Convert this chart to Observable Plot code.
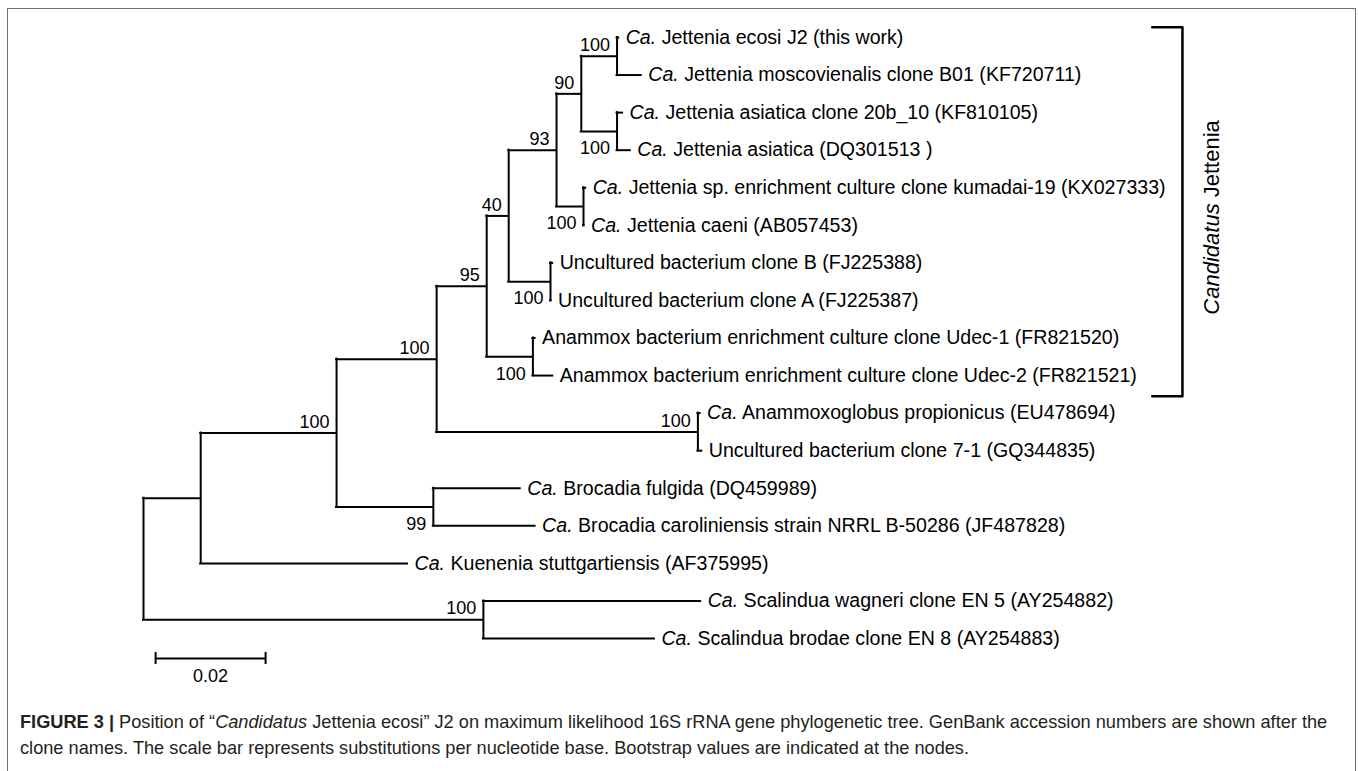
<!DOCTYPE html>
<html><head><meta charset="utf-8">
<script src="https://cdn.jsdelivr.net/npm/d3@7"></script>
<script src="https://cdn.jsdelivr.net/npm/@observablehq/plot@0.6"></script>
<style>
html,body{margin:0;padding:0;background:#fff;}
#wrap{position:relative;width:1358px;height:771px;overflow:hidden;font-family:"Liberation Sans",Arial,sans-serif;}
#frame{position:absolute;left:7px;top:8px;width:1349px;height:820px;border:1.5px solid #6e6e6e;box-sizing:border-box;pointer-events:none;}
#chart{position:absolute;left:0;top:0;}
#caption{position:absolute;left:20px;top:709px;font-size:18.2px;line-height:26px;color:#231f20;white-space:nowrap;}
#caption b{font-weight:bold;}
</style></head><body>
<div id="wrap">
  <div id="chart"></div>
  <div id="caption"><div><b>FIGURE 3 |</b> Position of “<i>Candidatus</i> Jettenia ecosi” J2 on maximum likelihood 16S rRNA gene phylogenetic tree. GenBank accession numbers are shown after the</div><div>clone names. The scale bar represents substitutions per nucleotide base. Bootstrap values are indicated at the nodes.</div></div>
  <div id="frame"></div>
</div>
<script>
// ---- Leaves (display order, top to bottom) ----
const leafNames = [
  "Ca. Jettenia ecosi J2 (this work)",
  "Ca. Jettenia moscovienalis clone B01 (KF720711)",
  "Ca. Jettenia asiatica clone 20b_10 (KF810105)",
  "Ca. Jettenia asiatica (DQ301513 )",
  "Ca. Jettenia sp. enrichment culture clone kumadai-19 (KX027333)",
  "Ca. Jettenia caeni (AB057453)",
  "Uncultured bacterium clone B (FJ225388)",
  "Uncultured bacterium clone A (FJ225387)",
  "Anammox bacterium enrichment culture clone Udec-1 (FR821520)",
  "Anammox bacterium enrichment culture clone Udec-2 (FR821521)",
  "Ca. Anammoxoglobus propionicus (EU478694)",
  "Uncultured bacterium clone 7-1 (GQ344835)",
  "Ca. Brocadia fulgida (DQ459989)",
  "Ca. Brocadia caroliniensis strain NRRL B-50286 (JF487828)",
  "Ca. Kuenenia stuttgartiensis (AF375995)",
  "Ca. Scalindua wagneri clone EN 5 (AY254882)",
  "Ca. Scalindua brodae clone EN 8 (AY254883)"
];
const leafParents = ["H","H","I","I","J","J","K","K","L","L","M","M","N","N","A","O","O"];
const leafBranchLengths = [0.0003,0.0044,0.0010,0.0024,0.0004,0.0001,0.0004,0.0001,0.0004,0.0036,0.0004,0.0007,0.0158,0.0185,0.0376,0.0395,0.0311];

// ---- Internal nodes ----
const internalNodes = ["root","A","B","C","D","E","F","G","H","I","J","K","L","M","N","O"];
const internalParents = [null,"root","A","B","C","D","E","F","G","G","F","E","D","C","B","root"];
const internalBranchLengths = [0,0.0104,0.0247,0.0182,0.0091,0.0040,0.0087,0.0045,0.0065,0.0065,0.0049,0.0076,0.0084,0.0475,0.0176,0.0618];
const bootstrapValues = [null,null,100,100,95,40,93,90,100,100,100,100,100,100,99,100];

// ---- Annotations ----
const cladeName = "Candidatus Jettenia";
const cladeLeaves = [0, 9];        // first and last leaf of the clade
const scaleBarLength = 0.02;
const scaleBarLabel = "0.02";

// ---- Layout computation ----
const nodes = new Map();
internalNodes.forEach((id, i) => nodes.set(id, {id, parent: internalParents[i], len: internalBranchLengths[i], boot: bootstrapValues[i], children: [], leaf: false}));
leafNames.forEach((name, i) => nodes.set("leaf" + i, {id: "leaf" + i, name, parent: leafParents[i], len: leafBranchLengths[i], children: [], leaf: true, y: i}));
for (const n of nodes.values()) if (n.parent) nodes.get(n.parent).children.push(n);
function setX(n, x) { n.x = x; for (const c of n.children) setX(c, x + c.len); }
setX(nodes.get("root"), 0);
function setY(n) { if (n.leaf) return n.y; const ys = n.children.map(setY); n.y = d3.mean(ys); n.ymin = d3.min(ys); n.ymax = d3.max(ys); return n.y; }
setY(nodes.get("root"));

const all = [...nodes.values()];
const hSegs = all.filter(n => n.parent).map(n => ({y: n.y, x1: nodes.get(n.parent).x, x2: n.x}));
const vSegs = all.filter(n => !n.leaf).map(n => ({x: n.x, y1: n.ymin, y2: n.ymax}));
const leaves = all.filter(n => n.leaf);
const belowSet = new Set(["I","J","K","L","N"]);
const bootAbove = all.filter(n => n.boot != null && !belowSet.has(n.id));
const bootBelow = all.filter(n => n.boot != null && belowSet.has(n.id));

const bracketX = 0.1889, bracketX0 = 0.1834;
const bracketTop = cladeLeaves[0] - 0.27, bracketBot = cladeLeaves[1] + 0.55;
const bracket = [
  {x: bracketX0, y: bracketTop}, {x: bracketX, y: bracketTop},
  {x: bracketX, y: bracketBot}, {x: bracketX0, y: bracketBot}
];
const sbX = 0.0022, sbY = leafNames.length - 1 + 0.53;

const chart = Plot.plot({
  width: 1358, height: 700, margin: 0,
  x: {domain: [0, 0.2], range: [143, 1243], axis: null},
  y: {domain: [0, 16], range: [37, 638], axis: null},
  style: {fontFamily: "'Liberation Sans', Arial, sans-serif", background: "transparent", color: "black"},
  marks: [
    Plot.ruleY(hSegs, {y: "y", x1: "x1", x2: "x2", stroke: "black", strokeWidth: 2, strokeLinecap: "square"}),
    Plot.ruleX(vSegs, {x: "x", y1: "y1", y2: "y2", stroke: "black", strokeWidth: 2, strokeLinecap: "square"}),
    Plot.text(leaves, {x: "x", y: "y", text: "name", textAnchor: "start", dx: 7, fontSize: 19.6, fill: "black"}),
    Plot.text(bootAbove, {x: "x", y: "y", text: "boot", textAnchor: "end", dx: -7, dy: -11, fontSize: 18, fill: "black"}),
    Plot.text(bootBelow, {x: "x", y: "y", text: "boot", textAnchor: "end", dx: -7, dy: 17, fontSize: 18, fill: "black"}),
    Plot.line(bracket, {x: "x", y: "y", stroke: "black", strokeWidth: 2.5}),
    Plot.text([cladeName], {x: 0.1942, y: (bracketTop + bracketBot) / 2 + 0.15, text: d => d, rotate: -90, fontSize: 22, fill: "black"}),
    Plot.ruleY([{y: sbY, x1: sbX, x2: sbX + scaleBarLength}], {y: "y", x1: "x1", x2: "x2", stroke: "black", strokeWidth: 2}),
    Plot.ruleX([sbX, sbX + scaleBarLength], {x: d => d, y1: sbY - 0.16, y2: sbY + 0.16, stroke: "black", strokeWidth: 2}),
    Plot.text([scaleBarLabel], {x: sbX + scaleBarLength / 2, y: sbY + 0.48, text: d => d, fontSize: 18, fill: "black"})
  ]
});

// Italicize "Ca." and "Candidatus" prefixes
for (const t of chart.querySelectorAll("text")) {
  const s = t.textContent;
  let pre = null;
  if (s.startsWith("Ca. ")) pre = "Ca.";
  else if (s.startsWith("Candidatus ")) pre = "Candidatus";
  if (pre) {
    const rest = s.slice(pre.length);
    t.textContent = "";
    const ts = document.createElementNS("http://www.w3.org/2000/svg", "tspan");
    ts.setAttribute("font-style", "italic");
    ts.textContent = pre;
    t.appendChild(ts);
    t.appendChild(document.createTextNode(rest));
  }
}
document.getElementById("chart").appendChild(chart);
</script>
</body></html>
